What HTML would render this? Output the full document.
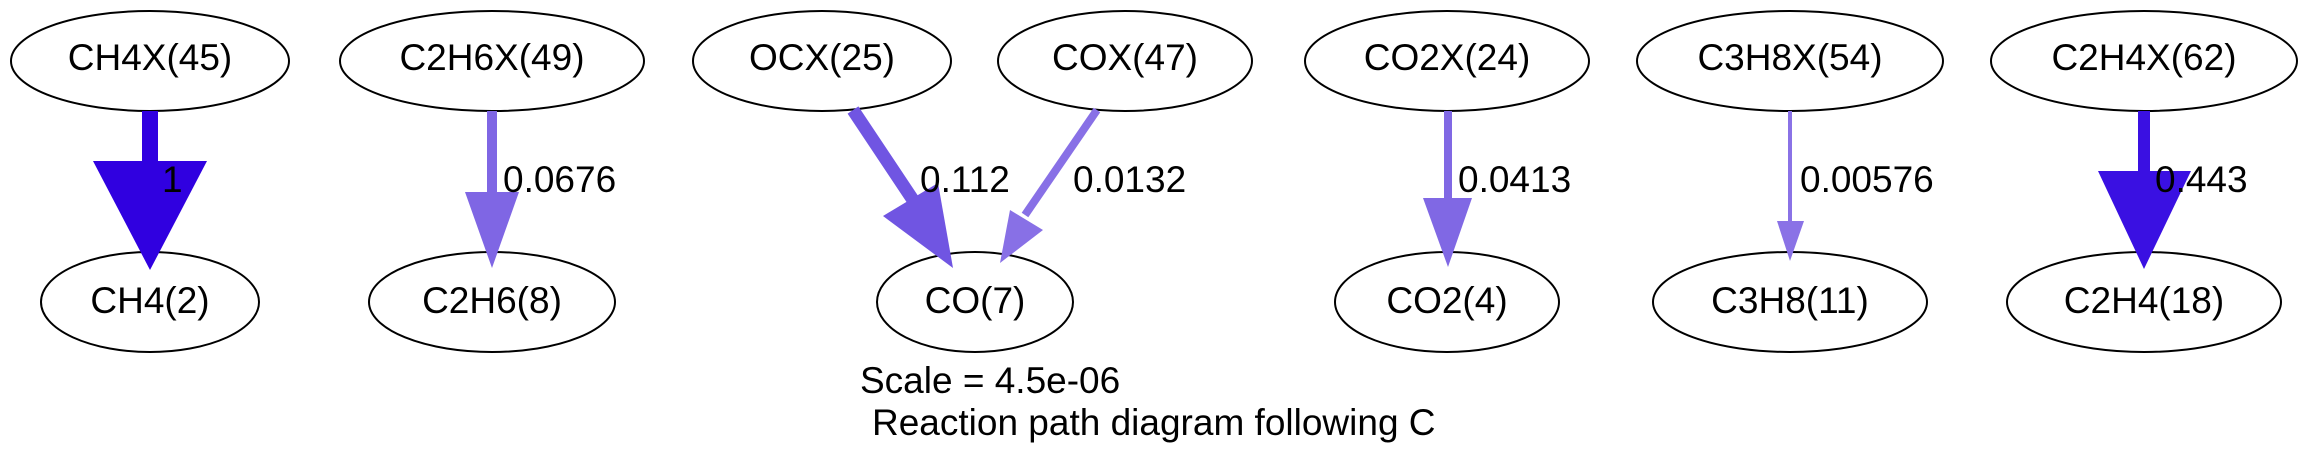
<!DOCTYPE html>
<html><head><meta charset="utf-8"><style>
html,body{margin:0;padding:0;background:#fff;}
svg{display:block;}
text{font-family:"Liberation Sans",Arial,sans-serif;font-size:37px;fill:#000;}
</style></head><body>
<svg width="2305" height="469" viewBox="0 0 2305 469" xmlns="http://www.w3.org/2000/svg">
<g fill="none" stroke="#000" stroke-width="2">
<ellipse cx="150" cy="61" rx="139" ry="50"/>
<ellipse cx="150" cy="302" rx="109" ry="50"/>
<ellipse cx="492" cy="61" rx="152" ry="50"/>
<ellipse cx="492" cy="302" rx="123" ry="50"/>
<ellipse cx="822" cy="61" rx="129" ry="50"/>
<ellipse cx="1125" cy="61" rx="127" ry="50"/>
<ellipse cx="975" cy="302" rx="98" ry="50"/>
<ellipse cx="1447" cy="61" rx="142" ry="50"/>
<ellipse cx="1447" cy="302" rx="112" ry="50"/>
<ellipse cx="1790" cy="61" rx="153" ry="50"/>
<ellipse cx="1790" cy="302" rx="137" ry="50"/>
<ellipse cx="2144" cy="61" rx="153" ry="50"/>
<ellipse cx="2144" cy="302" rx="137" ry="50"/>
</g>
<line x1="150" y1="111" x2="150" y2="165" stroke="#3000e0" stroke-width="16"/>
<polygon points="93,161 207,161 150,270" fill="#3000e0"/>
<line x1="492" y1="111" x2="492" y2="195" stroke="#7f66e4" stroke-width="10"/>
<polygon points="465,192 519,192 492,268" fill="#7f66e4"/>
<line x1="853" y1="110" x2="913" y2="200" stroke="#7055e2" stroke-width="13"/>
<polygon points="883,216 938,183 953,268" fill="#7055e2"/>
<line x1="1097" y1="110" x2="1025" y2="215" stroke="#8870e6" stroke-width="8"/>
<polygon points="1010,210 1043,230 1000,263" fill="#8870e6"/>
<line x1="1448" y1="111" x2="1448" y2="200" stroke="#8068e4" stroke-width="8"/>
<polygon points="1423,198 1472,198 1448,267" fill="#8068e4"/>
<line x1="1790" y1="111" x2="1790" y2="223" stroke="#8a72e6" stroke-width="4"/>
<polygon points="1777,221 1804,221 1790,261" fill="#8a72e6"/>
<line x1="2144" y1="111" x2="2144" y2="175" stroke="#3a10e2" stroke-width="12"/>
<polygon points="2098,171 2191,171 2144,269" fill="#3a10e2"/>
<g text-anchor="middle">
<text x="150" y="70">CH4X(45)</text>
<text x="150" y="313">CH4(2)</text>
<text x="492" y="70">C2H6X(49)</text>
<text x="492" y="313">C2H6(8)</text>
<text x="822" y="70">OCX(25)</text>
<text x="1125" y="70">COX(47)</text>
<text x="975" y="313">CO(7)</text>
<text x="1447" y="70">CO2X(24)</text>
<text x="1447" y="313">CO2(4)</text>
<text x="1790" y="70">C3H8X(54)</text>
<text x="1790" y="313">C3H8(11)</text>
<text x="2144" y="70">C2H4X(62)</text>
<text x="2144" y="313">C2H4(18)</text>
</g>
<text x="162" y="192">1</text>
<text x="503" y="192">0.0676</text>
<text x="920" y="192">0.112</text>
<text x="1073" y="192">0.0132</text>
<text x="1458" y="192">0.0413</text>
<text x="1800" y="192">0.00576</text>
<text x="2155" y="192">0.443</text>
<text x="860" y="393">Scale = 4.5e-06</text>
<text x="872" y="435">Reaction path diagram following C</text>
</svg>
</body></html>
